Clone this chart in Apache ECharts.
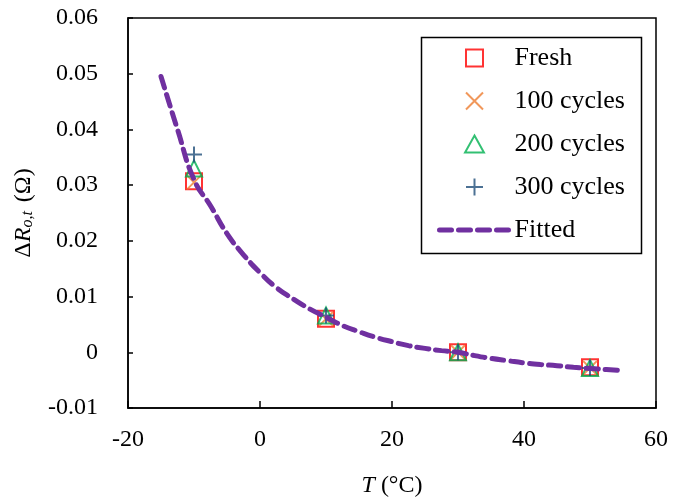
<!DOCTYPE html>
<html>
<head>
<meta charset="utf-8">
<script src="https://cdn.jsdelivr.net/npm/echarts@6/dist/echarts.min.js"></script>
<style>html,body{margin:0;padding:0;background:#fff;}#c{width:675px;height:503px;}</style>
</head>
<body>
<div id="c"></div>
<script>
const xTicks = [-20, 0, 20, 40, 60];
const yTicks = [-0.01, 0, 0.01, 0.02, 0.03, 0.04, 0.05, 0.06];
const temps = [-10, 10, 30, 50];
const fresh = [0.0307, 0.0060, 0.0000, -0.0027];
const cyc100 = [0.0305, 0.0060, 0.0000, -0.0028];
const cyc200 = [0.0330, 0.0066, 0.0000, -0.0028];
const cyc300 = [0.0355, 0.0066, 0.0000, -0.0028];
const fitT = [-15, -12.5, -10, -7.5, -5, -2.5, 0, 2.5, 5, 7.5, 10, 12.5, 15, 17.5, 20, 22.5, 25, 27.5, 30, 32.5, 35, 37.5, 40, 42.5, 45, 47.5, 50, 52.5, 55];
const fitR = [0.0495, 0.0400, 0.0310, 0.0263, 0.0213, 0.0175, 0.0143, 0.0116, 0.0096, 0.0078, 0.0063, 0.0048, 0.0037, 0.0027, 0.0019, 0.0012, 0.0007, 0.0003, 0.0000, -0.0006, -0.0011, -0.0015, -0.0019, -0.0022, -0.0024, -0.0027, -0.0029, -0.0031, -0.0033];
const seriesNames = ['Fresh', '100 cycles', '200 cycles', '300 cycles', 'Fitted'];

const pair = (xs, ys) => xs.map((x, i) => [x, ys[i]]);
const FONT = '"Liberation Serif", "Times New Roman", serif';
const SQ = 'path://M0,0L10,0L10,10L0,10Z';
const TRI = 'path://M5,0L10,9L0,9Z';
const CROSS = 'path://M0,0L10,10M10,0L0,10';
const PLUS = 'path://M5,0L5,10M0,5L10,5';

const chart = echarts.init(document.getElementById('c'), null, {renderer: 'canvas'});
chart.setOption({
  animation: false,
  grid: {left: 128, right: 19, top: 18, bottom: 95, show: true, borderColor: '#000', borderWidth: 1.5, backgroundColor: 'transparent'},
  xAxis: {
    type: 'value', min: xTicks[0], max: xTicks[xTicks.length - 1], interval: xTicks[1] - xTicks[0],
    splitLine: {show: false},
    axisLine: {onZero: false, lineStyle: {color: '#000', width: 1.5}},
    axisTick: {inside: true, length: 7, lineStyle: {color: '#000', width: 1.5}},
    axisLabel: {color: '#000', fontFamily: FONT, fontSize: 24, margin: 20},
    name: '{i|T} (°C)', nameLocation: 'middle', nameGap: 66,
    nameTextStyle: {
      color: '#000', fontFamily: FONT, fontSize: 24,
      rich: {i: {fontFamily: FONT, fontSize: 24, fontStyle: 'italic', color: '#000'}}
    }
  },
  yAxis: {
    type: 'value', min: yTicks[0], max: yTicks[yTicks.length - 1], interval: 0.01,
    splitLine: {show: false},
    axisLine: {show: true, onZero: false, lineStyle: {color: '#000', width: 1.5}},
    axisTick: {show: true, inside: true, length: 5, lineStyle: {color: '#000', width: 1.5}},
    axisLabel: {color: '#000', fontFamily: FONT, fontSize: 24, margin: 30,
      formatter: v => String(+v.toFixed(4))},
    name: '{d|Δ}{r|R}{s|o,t}{n| (Ω)}', nameLocation: 'middle', nameGap: 92,
    nameTextStyle: {
      color: '#000', fontFamily: FONT, fontSize: 24,
      rich: {
        d: {fontFamily: FONT, fontSize: 24, color: '#000'},
        r: {fontFamily: FONT, fontSize: 24, fontStyle: 'italic', color: '#000'},
        s: {fontFamily: FONT, fontSize: 16, fontStyle: 'italic', color: '#000', verticalAlign: 'bottom', padding: [0, 3, 0, 0]},
        n: {fontFamily: FONT, fontSize: 24, color: '#000'}
      }
    }
  },
  legend: {
    orient: 'vertical', left: 437, top: 45, padding: 0,
    itemWidth: 70, itemHeight: 17, itemGap: 17,
    data: [
      {name: seriesNames[0], icon: SQ},
      {name: seriesNames[1], icon: CROSS},
      {name: seriesNames[2], icon: TRI},
      {name: seriesNames[3], icon: PLUS},
      {name: seriesNames[4], itemStyle: {color: 'rgba(0,0,0,0)', borderWidth: 0, opacity: 0}}
    ],
    lineStyle: {width: 5, type: [12, 7], cap: 'round'},
    textStyle: {color: '#000', fontFamily: FONT, fontSize: 26},
    selectedMode: false
  },
  graphic: [{
    type: 'rect', left: 419, top: 35, shape: {width: 220, height: 216},
    style: {fill: 'none', stroke: '#000', lineWidth: 1.5}, z: 100, silent: true
  }],
  series: [
    {name: seriesNames[0], type: 'scatter', data: pair(temps, fresh), symbol: SQ, symbolSize: 16,
     itemStyle: {color: 'rgba(255,255,255,0)', borderColor: '#FF0000', borderWidth: 2}},
    {name: seriesNames[1], type: 'scatter', data: pair(temps, cyc100), symbol: CROSS, symbolSize: 14,
     itemStyle: {color: 'none', borderColor: '#ED7D31', borderWidth: 2}},
    {name: seriesNames[2], type: 'scatter', data: pair(temps, cyc200), symbol: TRI, symbolSize: 16,
     itemStyle: {color: 'rgba(255,255,255,0)', borderColor: '#00B050', borderWidth: 2}},
    {name: seriesNames[3], type: 'scatter', data: pair(temps, cyc300), symbol: PLUS, symbolSize: 16,
     itemStyle: {color: 'none', borderColor: '#1F4E79', borderWidth: 2}},
    {name: seriesNames[4], type: 'line', data: pair(fitT, fitR), smooth: true, symbol: 'none', showSymbol: false,
     itemStyle: {color: '#7030A0'},
     lineStyle: {color: '#7030A0', width: 5, type: [12, 7], cap: 'round'}}
  ]
});
</script>
</body>
</html>
